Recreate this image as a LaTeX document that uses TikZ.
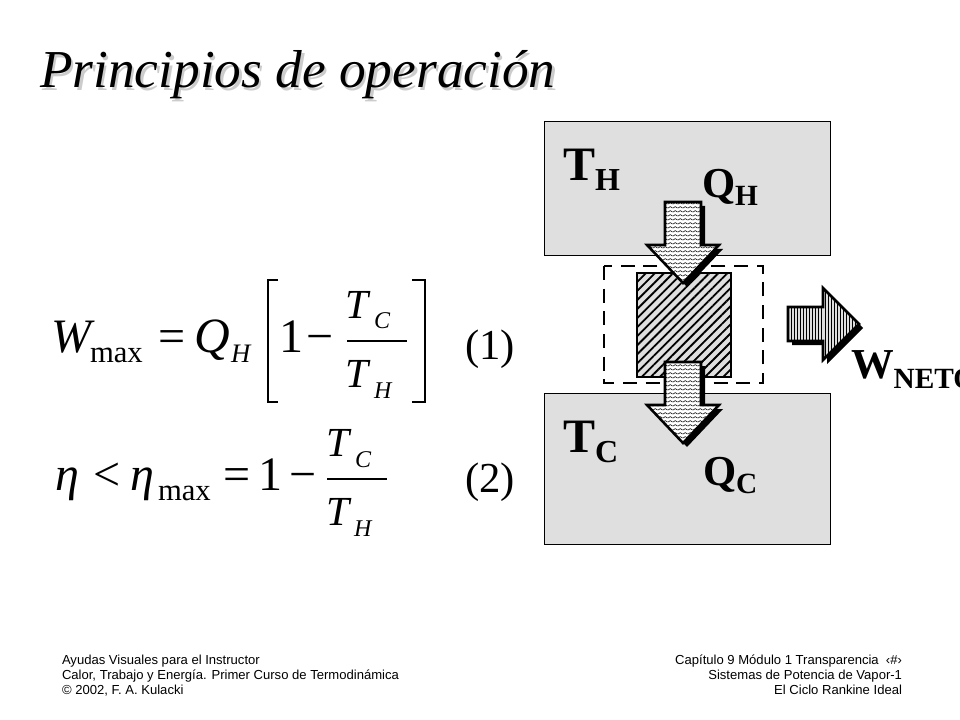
\documentclass[tikz,border=0pt]{standalone}
\usepackage{fontspec}
\setmainfont{Liberation Serif}
\newfontfamily\arialf{Liberation Sans}
\usetikzlibrary{patterns,patterns.meta}
\newcommand{\fsz}[1]{\fontsize{#1}{#1}\selectfont}
\tikzdeclarepattern{
  name=zigwave,
  type=uncolored,
  bounding box={(0pt,0pt) and (3.6pt,3.2pt)},
  tile size={(3.6pt,3.2pt)},
  code={\draw[line width=0.45pt] (0pt,0.8pt) -- (1.8pt,2.1pt) -- (3.6pt,0.8pt);}
}
\begin{document}
\begin{tikzpicture}[x=0.75pt,y=-0.75pt,
  lbl/.style={anchor=base west, inner sep=0pt, outer sep=0pt},
  rlbl/.style={anchor=base east, inner sep=0pt, outer sep=0pt},
  reservoir/.style={draw=black, line width=0.75pt, fill=gray!25},
  blockshadow/.style={fill=black},
  wavearrow/.style={preaction={fill=white}, pattern=zigwave, pattern color=black},
  outline/.style={draw=black, line width=1.9pt, line join=miter},
  foot/.style={font=\arialf\fontsize{9.8}{11}\selectfont}
]
\useasboundingbox[fill=white] (0,0) rectangle (960,720);

% title
\node[lbl, text=gray!40] at (42.5,90.5) {\itshape\fsz{40}Principios de operación};
\node[lbl] (title) at (40,88) {\itshape\fsz{40}Principios de operación};

% reservoirs
\path[reservoir] (544,122) rectangle (830,256);
\path[reservoir] (544,393) rectangle (830,544);

% dashed control volume
\draw[line width=2.2pt, dash pattern=on 10.5pt off 6.5pt] (604,266) rectangle (763,383);

% engine (hatched)
\path[fill=gray!25] (637,273) rectangle (731,377);
\path[pattern={Lines[angle=45,distance=4.8pt,line width=1.4pt]}, pattern color=black] (637,273) rectangle (731,377);
\draw[line width=0.9pt] (637,273) rectangle (731,377);

% heat arrows
\foreach \dy in {0,160}{
  \begin{scope}[shift={(0,\dy)}]
    \fill[blockshadow, shift={(4,4)}] (665,202) -- (701,202) -- (701,245) -- (719,245) -- (683,283) -- (647,245) -- (665,245) -- cycle;
    \path[wavearrow] (665,202) -- (701,202) -- (701,245) -- (719,245) -- (683,283) -- (647,245) -- (665,245) -- cycle;
    \path[outline] (665,202) -- (701,202) -- (701,245) -- (719,245) -- (683,283) -- (647,245) -- (665,245) -- cycle;
  \end{scope}
}

% work arrow
\fill[blockshadow, shift={(4,4)}] (788,307) -- (823,307) -- (823,288) -- (859,324) -- (823,360) -- (823,341) -- (788,341) -- cycle;
\path[preaction={fill=gray!25}, pattern={Lines[angle=90,distance=2.3pt,line width=0.6pt]}, pattern color=black] (788,307) -- (823,307) -- (823,288) -- (859,324) -- (823,360) -- (823,341) -- (788,341) -- cycle;
\path[outline] (788,307) -- (823,307) -- (823,288) -- (859,324) -- (823,360) -- (823,341) -- (788,341) -- cycle;

% diagram labels
\node[lbl] (TH) at (563,181) {\bfseries\fsz{36}T\raisebox{-7.5pt}{\fsz{24}H}};
\node[lbl] (QH) at (702,198) {\bfseries\fsz{32}Q\raisebox{-6pt}{\fsz{22}H}};
\node[lbl] (TC) at (563,452) {\bfseries\fsz{36}T\raisebox{-7.5pt}{\fsz{24}C}};
\node[lbl] (QC) at (703,485) {\bfseries\fsz{32}Q\raisebox{-6pt}{\fsz{22}C}};
\node[lbl] (W) at (851,378) {\bfseries\fsz{32}W\raisebox{-7.5pt}{\fsz{22}NETO}};

% equation (1)
\node[lbl] at (51,352) {\itshape\fsz{36}W};
\node[lbl] at (90,362) {\fsz{23}max};
\node[lbl] at (158,352) {\fsz{36}=};
\node[lbl] at (194,352) {\itshape\fsz{37}Q};
\node[lbl] at (231,362) {\itshape\fsz{20}H};
\node[lbl] at (279,352) {\fsz{36}1};
\node[lbl] at (306,352) {\fsz{36}−};
\draw[line width=1.4pt] (347,341) -- (407,341);
\node[lbl] at (345,318) {\itshape\fsz{31}T};
\node[lbl] at (374,329) {\itshape\fsz{18}C};
\node[lbl] at (345,387) {\itshape\fsz{31}T};
\node[lbl] at (374,398) {\itshape\fsz{18}H};
\draw[line width=1.6pt] (278,280) -- (268,280) -- (268,402) -- (278,402);
\draw[line width=1.6pt] (412,280) -- (425,280) -- (425,402) -- (412,402);
\node[lbl] (eq1) at (465,359) {\fsz{32}(1)};

% equation (2)
\node[lbl] at (55,490) {\itshape\fsz{36}η};
\node[lbl] at (93,490) {\fsz{36}<};
\node[lbl] at (130,490) {\itshape\fsz{36}η};
\node[lbl] at (158,500) {\fsz{23}max};
\node[lbl] at (223,490) {\fsz{36}=};
\node[lbl] at (258,490) {\fsz{36}1};
\node[lbl] at (289,490) {\fsz{36}−};
\draw[line width=1.4pt] (327,479) -- (387,479);
\node[lbl] at (326,456) {\itshape\fsz{31}T};
\node[lbl] at (355,467) {\itshape\fsz{18}C};
\node[lbl] at (326,525) {\itshape\fsz{31}T};
\node[lbl] at (354,536) {\itshape\fsz{18}H};
\node[lbl] (eq2) at (465,492) {\fsz{32}(2)};

% footer
\node[lbl, foot] (f1) at (62,664) {Ayudas Visuales para el Instructor};
\node[lbl, foot] (f2) at (62,679) {Calor, Trabajo y Energía. Primer Curso de Termodinámica};
\node[lbl, foot] (f3) at (62,694) {© 2002, F. A. Kulacki};
\node[rlbl, foot] (g1) at (902,664) {Capítulo 9 Módulo 1 Transparencia \ ‹\#›};
\node[rlbl, foot] (g2) at (902,679) {Sistemas de Potencia de Vapor-1};
\node[rlbl, foot] (g3) at (902,694) {El Ciclo Rankine Ideal};
\end{tikzpicture}
\end{document}
